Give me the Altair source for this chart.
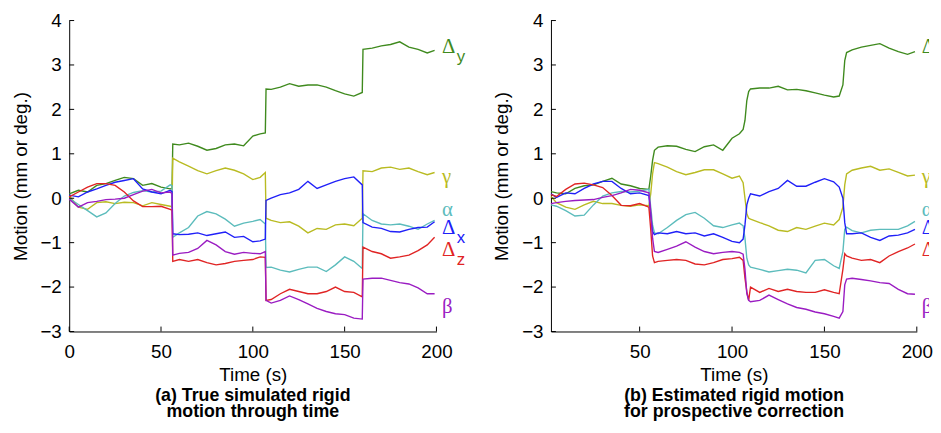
import altair as alt
import pandas as pd

SERIES = ["dy", "gamma", "alpha", "dx", "dz", "beta"]
COLORS = ["#3f8a1e", "#b9bb22", "#5cbcbc", "#2020f8", "#e02424", "#9a1cc2"]

# ---------------- panel (a): true simulated motion ----------------
t_a = [0, 5, 10, 15, 20, 25, 30, 35, 40, 45, 50, 55, 56,
       56.4, 60, 65, 70, 75, 80, 85, 90, 95, 100, 104, 106.8,
       107.2, 110, 115, 120, 125, 130, 135, 140, 145, 150, 155, 159.6,
       160, 165, 170, 175, 180, 185, 190, 195, 199]

a_dy = [0.10, 0.18, 0.14, 0.29, 0.33, 0.40, 0.47, 0.44, 0.29, 0.33, 0.25, 0.21, 0.22,
        1.22, 1.20, 1.24, 1.17, 1.08, 1.12, 1.20, 1.22, 1.18, 1.40, 1.45, 1.47,
        2.46, 2.45, 2.50, 2.58, 2.52, 2.55, 2.55, 2.50, 2.42, 2.35, 2.30, 2.38,
        3.35, 3.38, 3.43, 3.46, 3.52, 3.40, 3.35, 3.27, 3.33]
a_gamma = [0.05, -0.20, -0.25, -0.10, -0.08, -0.12, -0.09, -0.10, -0.17, -0.10, -0.14, -0.18, -0.20,
           0.90, 0.82, 0.72, 0.62, 0.55, 0.62, 0.68, 0.63, 0.55, 0.42, 0.47, 0.58,
           -0.45, -0.50, -0.55, -0.53, -0.63, -0.78, -0.68, -0.70, -0.60, -0.58, -0.62, -0.45,
           0.62, 0.60, 0.68, 0.70, 0.65, 0.68, 0.60, 0.53, 0.58]
a_alpha = [0.00, -0.14, -0.28, -0.42, -0.33, -0.12, 0.05, 0.13, 0.17, 0.14, 0.16, 0.30, 0.28,
           -0.88, -0.78, -0.66, -0.40, -0.30, -0.35, -0.47, -0.63, -0.56, -0.52, -0.48, -0.58,
           -1.56, -1.55, -1.62, -1.66, -1.60, -1.55, -1.55, -1.65, -1.50, -1.32, -1.42, -1.58,
           -0.35, -0.50, -0.58, -0.60, -0.58, -0.63, -0.70, -0.58, -0.50]
a_dx = [0.07, 0.03, 0.14, 0.21, 0.29, 0.36, 0.40, 0.44, 0.21, 0.14, 0.10, 0.18, 0.15,
        -0.80, -0.82, -0.81, -0.78, -0.84, -0.80, -0.76, -0.88, -0.86, -0.98, -0.96, -0.92,
        -0.05, 0.00, 0.08, 0.12, 0.20, 0.38, 0.22, 0.30, 0.38, 0.44, 0.48, 0.30,
        -0.55, -0.65, -0.68, -0.75, -0.76, -0.70, -0.66, -0.65, -0.53]
a_dz = [0.03, 0.14, 0.25, 0.33, 0.33, 0.29, 0.14, -0.06, -0.19, -0.19, -0.18, -0.25, -0.27,
        -1.42, -1.38, -1.42, -1.38, -1.45, -1.50, -1.47, -1.42, -1.40, -1.38, -1.32, -1.33,
        -2.30, -2.28, -2.15, -2.05, -2.10, -2.15, -2.15, -2.10, -2.00, -2.10, -2.12, -2.22,
        -1.10, -1.20, -1.25, -1.35, -1.32, -1.28, -1.18, -1.05, -0.88]
a_beta = [-0.02, -0.20, -0.10, -0.07, -0.03, -0.02, 0.00, 0.08, 0.16, 0.20, 0.12, 0.14, 0.10,
          -1.28, -1.24, -1.22, -1.13, -0.95, -1.05, -1.20, -1.26, -1.22, -1.24, -1.25, -1.20,
          -2.30, -2.36, -2.30, -2.20, -2.28, -2.38, -2.48, -2.55, -2.60, -2.62, -2.70, -2.72,
          -1.82, -1.80, -1.80, -1.85, -1.90, -1.93, -2.02, -2.15, -2.15]

# ---------------- panel (b): estimated motion ----------------
t_b = [2, 5, 10, 15, 20, 25, 30, 35, 40, 45, 50, 55,
       56, 57, 58,
       60, 65, 70, 75, 80, 85, 90, 95, 100, 104, 106,
       107, 108, 109,
       110, 115, 120, 125, 130, 135, 140, 145, 150, 155, 158,
       160, 161, 162,
       165, 170, 175, 180, 185, 190, 195, 199]

b_dy = [0.15, 0.12, 0.10, 0.22, 0.28, 0.30, 0.38, 0.45, 0.32, 0.28, 0.22, 0.20,
        0.50, 0.85, 1.08,
        1.15, 1.18, 1.17, 1.10, 1.05, 1.16, 1.20, 1.08, 1.35, 1.45, 1.55,
        1.75, 2.20, 2.40,
        2.46, 2.48, 2.48, 2.52, 2.44, 2.45, 2.42, 2.37, 2.32, 2.28, 2.30,
        2.55, 3.10, 3.28,
        3.34, 3.40, 3.44, 3.48, 3.38, 3.30, 3.24, 3.30]
b_gamma = [0.04, -0.10, -0.20, -0.25, -0.15, -0.07, -0.12, -0.12, -0.16, -0.18, -0.15, -0.17,
           0.10, 0.55, 0.80,
           0.78, 0.70, 0.60, 0.53, 0.58, 0.64, 0.64, 0.55, 0.45, 0.50, 0.35,
           0.00, -0.35, -0.45,
           -0.47, -0.55, -0.62, -0.72, -0.75, -0.66, -0.70, -0.63, -0.56, -0.60, -0.48,
           -0.20, 0.30, 0.55,
           0.63, 0.68, 0.72, 0.63, 0.66, 0.58, 0.50, 0.52]
b_alpha = [-0.15, -0.18, -0.28, -0.40, -0.38, -0.15, 0.05, 0.12, 0.15, 0.14, 0.16, 0.20,
           -0.20, -0.60, -0.78,
           -0.80, -0.66, -0.50, -0.37, -0.32, -0.45, -0.62, -0.66, -0.60, -0.56, -0.62,
           -0.90, -1.35, -1.50,
           -1.55, -1.60, -1.66, -1.63, -1.60, -1.62, -1.68, -1.40, -1.38, -1.52, -1.58,
           -1.20, -0.70, -0.65,
           -0.73, -0.78, -0.72, -0.70, -0.70, -0.70, -0.62, -0.52]
b_dx = [0.10, 0.02, 0.12, 0.10, 0.22, 0.32, 0.38, 0.38, 0.22, 0.10, 0.12, 0.06,
        -0.40, -0.75, -0.82,
        -0.78, -0.80, -0.75, -0.80, -0.78, -0.85, -0.80, -0.88, -0.97, -1.00, -0.92,
        -0.60, -0.15, 0.00,
        0.10, 0.05, 0.15, 0.22, 0.40, 0.27, 0.27, 0.36, 0.44, 0.37, 0.25,
        0.00, -0.55, -0.80,
        -0.80, -0.78, -0.88, -0.95, -0.85, -0.83, -0.78, -0.70]
b_dz = [0.08, 0.04, 0.20, 0.32, 0.34, 0.30, 0.24, 0.06, -0.16, -0.17, -0.12, -0.20,
        -0.70, -1.30, -1.45,
        -1.42, -1.40, -1.38, -1.40, -1.48, -1.50, -1.45, -1.38, -1.36, -1.33, -1.40,
        -1.80, -2.10, -2.30,
        -2.00, -2.12, -2.03, -2.10, -2.05, -2.10, -2.12, -2.12, -2.06, -2.12, -2.15,
        -1.60, -1.25, -1.30,
        -1.35, -1.40, -1.38, -1.45, -1.30, -1.20, -1.12, -1.03]
b_beta = [-0.12, -0.10, -0.07, -0.05, -0.04, -0.03, 0.02, 0.06, 0.12, 0.20, 0.18, 0.12,
          -0.30, -0.90, -1.20,
          -1.22, -1.15, -1.08, -0.98, -1.10, -1.20, -1.25, -1.22, -1.20, -1.22, -1.26,
          -1.60, -2.15, -2.30,
          -2.33, -2.30, -2.18, -2.28, -2.38, -2.46, -2.50, -2.56, -2.60, -2.66, -2.70,
          -2.55, -1.95, -1.82,
          -1.80, -1.83, -1.86, -1.90, -1.92, -2.05, -2.15, -2.16]

# series labels at the right end
LABEL_MAIN = ["\u0394", "\u03b3", "\u03b1", "\u0394", "\u0394", "\u03b2"]
LABEL_SUB = ["y", "", "", "x", "z", ""]
label_y = [3.40, 0.47, -0.27, -0.68, -1.16, -2.44]
label_t_a = 203
label_t_b = 202.7

Y_TICKS = [-3, -2, -1, 0, 1, 2, 3, 4]
X_TICKS_A = [0, 50, 100, 150, 200]
X_TICKS_B = [50, 100, 150, 200]

FONT = "Liberation Sans"
H = 315


def panel(times, values, xdomain, xticks, label_t, caption, width, xrange, clip, tdx):
    rows = []
    for name, col, vals in zip(SERIES, COLORS, values):
        for t, v in zip(times, vals):
            rows.append({"t": t, "v": v, "s": name, "c": col})
    df = pd.DataFrame(rows)
    lab = pd.DataFrame({"t": [label_t] * 6, "v": label_y, "lab": LABEL_MAIN,
                        "sub": LABEL_SUB, "c": COLORS})
    xs = alt.Scale(domain=xdomain, range=xrange, nice=False, zero=False)
    ys = alt.Scale(domain=[-3, 4], nice=False, zero=False)
    common = dict(ticks=False, tickSize=0, grid=False, format="d", labelFlush=False,
                  labelFont=FONT, labelFontSize=19, titleFont=FONT, titleFontSize=19,
                  titleFontWeight="normal", labelColor="black", titleColor="black",
                  domainColor="black", domainWidth=1)
    xax = alt.Axis(values=xticks, title="Time (s)", labelPadding=11, titlePadding=5, **common)
    yax = alt.Axis(values=Y_TICKS, title="Motion (mm or deg.)", labelPadding=8,
                   titlePadding=10, **common)
    lines = alt.Chart(df).mark_line(strokeWidth=1.4).encode(
        x=alt.X("t:Q", scale=xs, axis=xax),
        y=alt.Y("v:Q", scale=ys, axis=yax),
        color=alt.Color("c:N", scale=None),
        detail="s:N",
    )
    ytk = alt.Chart(pd.DataFrame({"v": Y_TICKS})).mark_rule(color="black", strokeWidth=1).encode(
        y="v:Q", x=alt.value(0), x2=alt.value(5))
    xtk = alt.Chart(pd.DataFrame({"t": xticks})).mark_rule(color="black", strokeWidth=1).encode(
        x="t:Q", y=alt.value(H), y2=alt.value(H - 5))
    txt = alt.Chart(lab).mark_text(align="left", baseline="middle", font="Liberation Serif",
                                   fontSize=21, clip=clip).encode(
        x="t:Q", y="v:Q", text="lab:N", color=alt.Color("c:N", scale=None))
    sub = alt.Chart(lab).mark_text(align="left", baseline="middle", font="Liberation Sans",
                                   fontSize=17, dx=15, dy=10, clip=clip).encode(
        x="t:Q", y="v:Q", text="sub:N", color=alt.Color("c:N", scale=None))
    return alt.layer(lines, ytk, xtk, txt, sub).properties(
        width=width, height=H,
        title=alt.TitleParams(caption, orient="bottom", anchor="middle", font=FONT,
                              fontSize=18, fontWeight="bold", lineHeight=17, offset=2,
                              color="black", dx=tdx),
    )


pa = panel(t_a, [a_dy, a_gamma, a_alpha, a_dx, a_dz, a_beta], [0, 200], X_TICKS_A,
           label_t_a, ["(a) True simulated rigid", "motion through time"], 372, [0, 372],
           False, 0)
pb = panel(t_b, [b_dy, b_gamma, b_alpha, b_dx, b_dz, b_beta], [2, 200], X_TICKS_B,
           label_t_b, ["(b) Estimated rigid motion", "for prospective correction"], 383,
           [0, 370.6], True, -6)

chart = alt.hconcat(pa, pb, spacing=116, bounds="flush").properties(
    padding={"left": 3, "top": 1, "right": 0, "bottom": 0},
    background="white",
).configure_view(stroke=None)

chart.save("out.html", embed_options={"renderer": "svg", "actions": False})
